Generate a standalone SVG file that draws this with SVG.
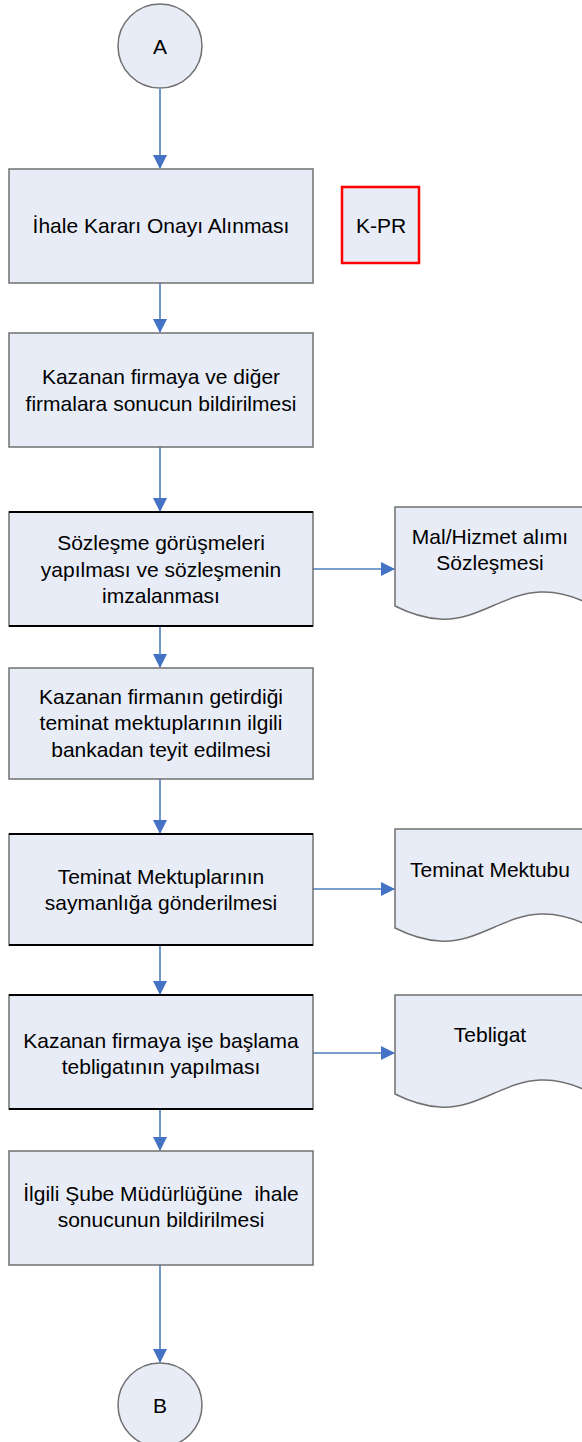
<svg xmlns="http://www.w3.org/2000/svg" width="582" height="1442" viewBox="0 0 582 1442">
<style>
.box{fill:#e8ecf7;stroke:#707070;stroke-width:1.5}
.thick{stroke:#000;stroke-width:2.2}
.t{font-family:"Liberation Sans",Arial,sans-serif;font-size:21px;fill:#000;text-anchor:middle}
.c{fill:none;stroke:#4a7ebb;stroke-width:1.6}
</style>
<defs>
<marker id="ah" markerWidth="14" markerHeight="14" refX="13" refY="7" orient="auto" markerUnits="userSpaceOnUse">
<path d="M0,0 L14,7 L0,14 Z" fill="#4472c4"/>
</marker>
<path id="doc" d="M0,0 H192 V96 C180,90 165,84 145,85 C110,86 80,115 45,112 C25,111 10,104 0,99 Z"/>
</defs>
<rect width="582" height="1442" fill="#fff"/>
<g id="connectors">
<line class="c" x1="160" y1="89" x2="160" y2="168" marker-end="url(#ah)"/>
<line class="c" x1="160" y1="283" x2="160" y2="332" marker-end="url(#ah)"/>
<line class="c" x1="160" y1="447" x2="160" y2="511" marker-end="url(#ah)"/>
<line class="c" x1="160" y1="626" x2="160" y2="667" marker-end="url(#ah)"/>
<line class="c" x1="160" y1="779" x2="160" y2="833" marker-end="url(#ah)"/>
<line class="c" x1="160" y1="945" x2="160" y2="994" marker-end="url(#ah)"/>
<line class="c" x1="160" y1="1109" x2="160" y2="1150" marker-end="url(#ah)"/>
<line class="c" x1="160" y1="1265" x2="160" y2="1362" marker-end="url(#ah)"/>
<line class="c" x1="313" y1="569" x2="394" y2="569" marker-end="url(#ah)"/>
<line class="c" x1="313" y1="889" x2="394" y2="889" marker-end="url(#ah)"/>
<line class="c" x1="313" y1="1053" x2="394" y2="1053" marker-end="url(#ah)"/>
</g>
<g id="startA">
<circle cx="160" cy="46" r="42" class="box"/>
<text class="t" x="160" y="54">A</text>
</g>
<g id="n1">
<rect class="box" x="9" y="169" width="304" height="114"/>
<text class="t" x="161" y="233">İhale Kararı Onayı Alınması</text>
</g>
<g id="kpr">
<rect x="342" y="187" width="77" height="76" fill="#e8ecf7" stroke="#ff0000" stroke-width="2.5"/>
<text class="t" x="381" y="233">K-PR</text>
</g>
<g id="n2">
<rect class="box" x="9" y="333" width="304" height="114"/>
<text class="t" x="161" y="384">Kazanan firmaya ve diğer</text>
<text class="t" x="161" y="411">firmalara sonucun bildirilmesi</text>
</g>
<g id="n3">
<rect class="box" x="9" y="512" width="304" height="114"/>
<line class="thick" x1="9" y1="512" x2="313" y2="512"/>
<line class="thick" x1="9" y1="626" x2="313" y2="626"/>
<text class="t" x="161" y="550">Sözleşme görüşmeleri</text>
<text class="t" x="161" y="577">yapılması ve sözleşmenin</text>
<text class="t" x="161" y="603">imzalanması</text>
</g>
<g id="d1">
<use href="#doc" x="395" y="507" class="box"/>
<text class="t" x="490" y="544">Mal/Hizmet alımı</text>
<text class="t" x="490" y="570">Sözleşmesi</text>
</g>
<g id="n4">
<rect class="box" x="9" y="668" width="304" height="111"/>
<text class="t" x="161" y="704">Kazanan firmanın getirdiği</text>
<text class="t" x="161" y="730">teminat mektuplarının ilgili</text>
<text class="t" x="161" y="757">bankadan teyit edilmesi</text>
</g>
<g id="n5">
<rect class="box" x="9" y="834" width="304" height="111"/>
<line class="thick" x1="9" y1="834" x2="313" y2="834"/>
<line class="thick" x1="9" y1="945" x2="313" y2="945"/>
<text class="t" x="161" y="884">Teminat Mektuplarının</text>
<text class="t" x="161" y="910">saymanlığa gönderilmesi</text>
</g>
<g id="d2">
<use href="#doc" x="395" y="829" class="box"/>
<text class="t" x="490" y="877">Teminat Mektubu</text>
</g>
<g id="n6">
<rect class="box" x="9" y="995" width="304" height="114"/>
<line class="thick" x1="9" y1="995" x2="313" y2="995"/>
<line class="thick" x1="9" y1="1109" x2="313" y2="1109"/>
<text class="t" x="161" y="1048">Kazanan firmaya işe başlama</text>
<text class="t" x="161" y="1074">tebligatının yapılması</text>
</g>
<g id="d3">
<use href="#doc" x="395" y="995" class="box"/>
<text class="t" x="490" y="1042">Tebligat</text>
</g>
<g id="n7">
<rect class="box" x="9" y="1151" width="304" height="114"/>
<text class="t" x="161" y="1201" xml:space="preserve">İlgili Şube Müdürlüğüne  ihale</text>
<text class="t" x="161" y="1227">sonucunun bildirilmesi</text>
</g>
<g id="endB">
<circle cx="160" cy="1405" r="42" class="box"/>
<text class="t" x="160" y="1413">B</text>
</g>
</svg>
